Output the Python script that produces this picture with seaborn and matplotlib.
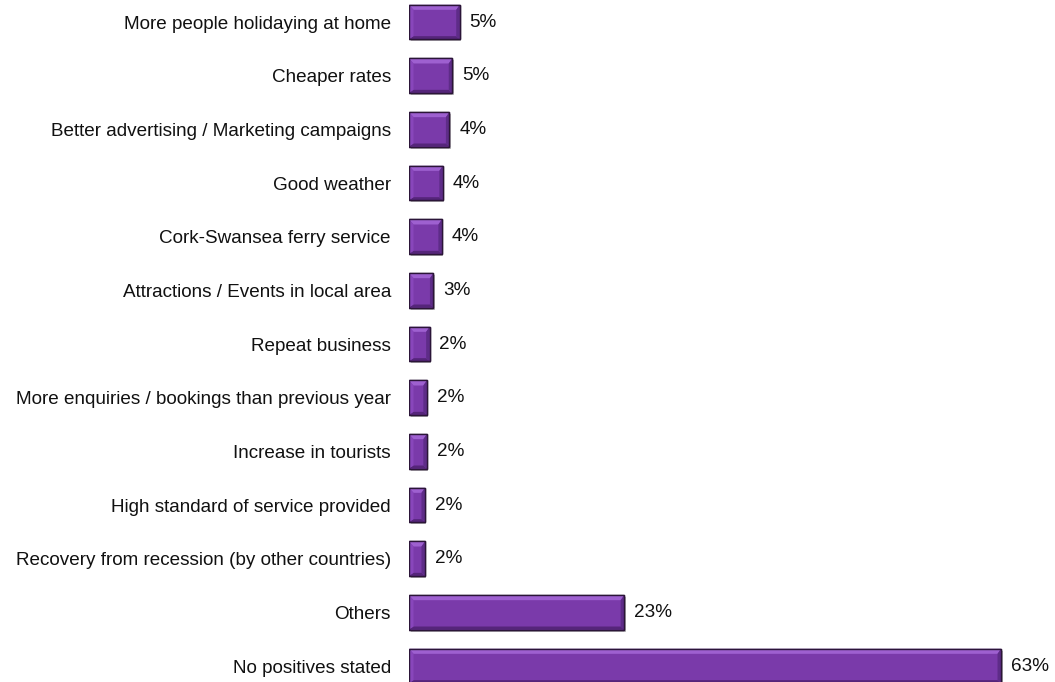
import matplotlib
matplotlib.use("Agg")
import matplotlib.pyplot as plt
from matplotlib.patches import Polygon, Rectangle
import seaborn as sns
import pandas as pd

categories = [
    "More people holidaying at home",
    "Cheaper rates",
    "Better advertising / Marketing campaigns",
    "Good weather",
    "Cork-Swansea ferry service",
    "Attractions / Events in local area",
    "Repeat business",
    "More enquiries / bookings than previous year",
    "Increase in tourists",
    "High standard of service provided",
    "Recovery from recession (by other countries)",
    "Others",
    "No positives stated",
]
values = [5.4, 4.6, 4.3, 3.6, 3.5, 2.6, 2.2, 1.9, 1.9, 1.7, 1.7, 22.9, 63.0]

sns.set_style("white")
plt.rcParams["font.family"] = ["Liberation Sans", "DejaVu Sans"]

W, H = 1055, 682
fig = plt.figure(figsize=(W / 100, H / 100), dpi=100)
ax_left, ax_w = 409, 639
ax = fig.add_axes([ax_left / W, 0, ax_w / W, 1])

df = pd.DataFrame({"reason": categories, "pct": values})
face = "#7a3aaa"
sns.barplot(data=df, x="pct", y="reason", orient="h", color=face,
            saturation=1, width=0.64, edgecolor="#2b1538", linewidth=1.0,
            ax=ax, zorder=3)

xmax = 68
ax.set_xlim(0, xmax)
ax.set_ylim(12.298, -0.41)
ax.set_xlabel("")
ax.set_ylabel("")
ax.set_xticks([])
for s in ax.spines.values():
    s.set_visible(False)
ax.tick_params(axis="y", length=0, pad=13, labelsize=13.6, labelcolor="#111111")

# bevel decoration derived from each bar's geometry
px_x = xmax / ax_w
px_y = (12.298 + 0.41) / H
for p in ax.patches:
    x0, y0 = p.get_x(), p.get_y()
    w, h = p.get_width(), p.get_height()
    x1, y1 = x0 + w, y0 + h
    bpx = min(4.5, (w / px_x) / 3.5)
    bx = bpx * px_x
    bt = 5.0 * px_y
    bb = 3.0 * px_y
    br = min(3.5, bpx) * px_x
    # drop shadow
    ax.add_patch(Rectangle((x0 + 1.5 * px_x, y0 + 2 * px_y), w, h,
                           facecolor="#bdbdbd", edgecolor="none", zorder=2))
    top = Polygon([(x0, y0), (x1, y0), (x1 - br, y0 + bt), (x0 + bx, y0 + bt)],
                  closed=True, facecolor="#9e60d0", edgecolor="none", zorder=4)
    bottom = Polygon([(x0, y1), (x1, y1), (x1 - br, y1 - bb), (x0 + bx, y1 - bb)],
                     closed=True, facecolor="#55257a", edgecolor="none", zorder=4)
    left = Polygon([(x0, y0), (x0 + bx, y0 + bt), (x0 + bx, y1 - bb), (x0, y1)],
                   closed=True, facecolor="#8846bb", edgecolor="none", zorder=4)
    right = Polygon([(x1, y0), (x1 - br, y0 + bt), (x1 - br, y1 - bb), (x1, y1)],
                    closed=True, facecolor="#5e2c88", edgecolor="none", zorder=4)
    for poly in (top, bottom, left, right):
        ax.add_patch(poly)
    ax.add_patch(Rectangle((x0, y0), w, h, facecolor="none",
                           edgecolor="#2b1538", linewidth=1.0, zorder=5))

ax.bar_label(ax.containers[0], labels=[f"{v:.0f}%" for v in values],
             padding=7, fontsize=13.6, color="#111111")

fig.savefig("out.png", dpi=100)
